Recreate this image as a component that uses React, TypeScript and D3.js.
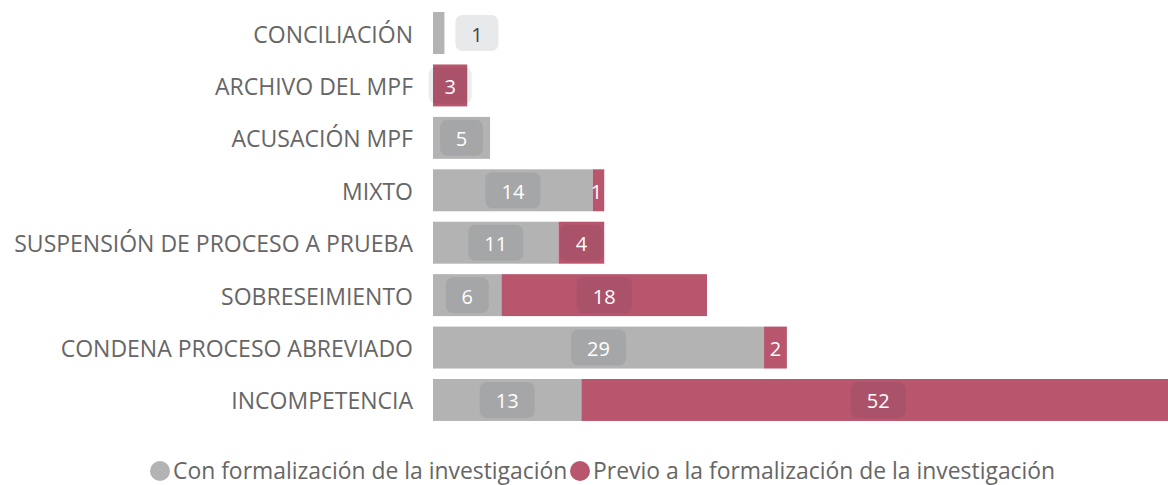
import React from "react";
import * as d3 from "d3";

const categories = [
  "CONCILIACIÓN",
  "ARCHIVO DEL MPF",
  "ACUSACIÓN MPF",
  "MIXTO",
  "SUSPENSIÓN DE PROCESO A PRUEBA",
  "SOBRESEIMIENTO",
  "CONDENA PROCESO ABREVIADO",
  "INCOMPETENCIA",
];
const conFormalizacion = [1, 0, 5, 14, 11, 6, 29, 13];
const previoFormalizacion = [0, 3, 0, 1, 4, 18, 2, 52];
const seriesNames = [
  "Con formalización de la investigación",
  "Previo a la formalización de la investigación",
];
const colors = ["#b3b3b3", "#b8566e"];

const W = 1168;
const H = 485;
const FONT = "'Open Sans', sans-serif";

export default function App() {
  const x = d3.scaleLinear().domain([0, 65]).range([433, 1175]);
  const y = d3
    .scaleBand<string>()
    .domain(categories)
    .range([6.8, 426.2])
    .paddingInner(0.2)
    .paddingOuter(0.1);

  const rows = categories.map((c, i) => ({
    cat: c,
    vals: [conFormalizacion[i], previoFormalizacion[i]],
  }));

  const bw = y.bandwidth();

  return (
    <svg
      width={W}
      height={H}
      style={{ position: "absolute", left: 0, top: 0, fontFamily: FONT }}
    >
      {rows.map((r) => {
        const y0 = y(r.cat)!;
        let acc = 0;
        const segs = r.vals.map((v, si) => {
          const start = acc;
          acc += v;
          return { v, si, x0: x(start), x1: x(start + v) };
        });
        const nonZero = segs.filter((s) => s.v > 0);
        return (
          <g key={r.cat}>
            <text
              x={413}
              y={y0 + bw / 2 + 0.5}
              textAnchor="end"
              dominantBaseline="central"
              fontSize={23}
              fill="#666"
            >
              {r.cat}
            </text>
            {segs.map((s) =>
              s.v > 0 ? (
                <rect
                  key={s.si}
                  x={s.x0}
                  y={y0}
                  width={s.x1 - s.x0}
                  height={bw}
                  fill={colors[s.si]}
                />
              ) : null
            )}
            {segs.map((s) => {
              if (s.v <= 0) return null;
              const w = s.x1 - s.x0;
              const txt = String(s.v);
              const boxW = txt.length > 1 ? 55 : 43;
              const boxH = 36;
              const cy = y0 + bw / 2;
              const alone = nonZero.length === 1;
              if (w < 20 && alone) {
                const bx = s.x1 + 11;
                return (
                  <g key={"l" + s.si}>
                    <rect
                      x={bx}
                      y={cy - boxH / 2}
                      width={boxW}
                      height={boxH}
                      rx={7}
                      fill="rgba(30,40,60,0.1)"
                    />
                    <text
                      x={bx + boxW / 2}
                      y={cy + 1}
                      textAnchor="middle"
                      dominantBaseline="central"
                      fontSize={20}
                      fill="#444"
                    >
                      {txt}
                    </text>
                  </g>
                );
              }
              const cx = (s.x0 + s.x1) / 2;
              if (w < 30) {
                return (
                  <text
                    key={"l" + s.si}
                    x={cx - (s.v === 1 ? 2 : 0)}
                    y={cy + 1}
                    textAnchor="middle"
                    dominantBaseline="central"
                    fontSize={20}
                    fill="#fff"
                  >
                    {txt}
                  </text>
                );
              }
              return (
                <g key={"l" + s.si}>
                  <rect
                    x={cx - boxW / 2}
                    y={cy - boxH / 2}
                    width={boxW}
                    height={boxH}
                    rx={7}
                    fill="rgba(30,40,60,0.09)"
                  />
                  <text
                    x={cx}
                    y={cy + 1}
                    textAnchor="middle"
                    dominantBaseline="central"
                    fontSize={20}
                    fill="#fff"
                  >
                    {txt}
                  </text>
                </g>
              );
            })}
          </g>
        );
      })}
      <g>
        <circle cx={160} cy={471} r={10} fill={colors[0]} />
        <text x={173} y={470} dominantBaseline="central" fontSize={22.9} fill="#666">
          {seriesNames[0]}
        </text>
        <circle cx={580} cy={471} r={10} fill={colors[1]} />
        <text x={593} y={470} dominantBaseline="central" fontSize={22.9} fill="#666">
          {seriesNames[1]}
        </text>
      </g>
    </svg>
  );
}
